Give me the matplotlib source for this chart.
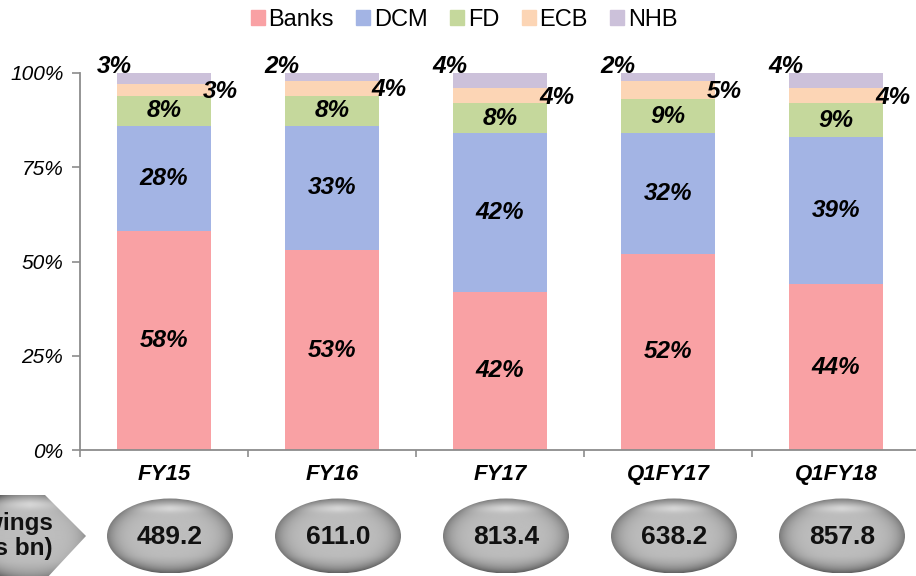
import matplotlib
matplotlib.use('Agg')
import matplotlib.pyplot as plt
import numpy as np
from matplotlib.patches import Ellipse, Polygon, Patch

plt.rcParams['font.family'] = ['Liberation Sans', 'DejaVu Sans']

# Data
periods = ["FY15", "FY16", "FY17", "Q1FY17", "Q1FY18"]
sources = ["Banks", "DCM", "FD", "ECB", "NHB"]
banks = [58, 53, 42, 52, 44]
dcm = [28, 33, 42, 32, 39]
fd = [8, 8, 8, 9, 9]
ecb = [3, 4, 4, 5, 4]
nhb = [3, 2, 4, 2, 4]
borrowings = [489.2, 611.0, 813.4, 638.2, 857.8]
colors = ["#F9A1A4", "#A3B4E4", "#C5D89C", "#FCD5B5", "#CCC1DA"]

W, H = 916, 576
fig = plt.figure(figsize=(W / 100, H / 100), dpi=100)
ax = fig.add_axes([80 / W, 126 / H, 840 / W, 377 / H])

x = np.arange(len(periods))
bw = 0.555
series = [banks, dcm, fd, ecb, nhb]
bottom = np.zeros(len(periods))
for vals, col, name in zip(series, colors, sources):
    ax.bar(x, vals, bw, bottom=bottom, color=col, label=name, linewidth=0)
    bottom += np.array(vals)

lab = dict(fontsize=17.5, fontweight='bold', fontstyle='italic', color='black')
for i in x:
    b, d, f, e, n = banks[i], dcm[i], fd[i], ecb[i], nhb[i]
    ax.text(i, b / 2, f"{b}%", ha='center', va='center', **lab)
    ax.text(i, b + d / 2, f"{d}%", ha='center', va='center', **lab)
    ax.text(i, b + d + f / 2, f"{f}%", ha='center', va='center', **lab)
    ax.text(i + bw / 2 + 0.06, b + d + f + e / 2 - 0.5, f"{e}%", ha='center',
            va='center', clip_on=False, **lab)
    ax.text(i - bw / 2 - 0.02, 101.8, f"{n}%", ha='center', va='center',
            clip_on=False, **lab)

ax.set_xlim(-0.5, 4.5)
ax.set_ylim(0, 100)
ax.set_yticks([0, 25, 50, 75, 100])
ax.set_yticklabels(["0%", "25%", "50%", "75%", "100%"],
                   fontsize=15, fontstyle='italic')
ax.set_xticks(x)
ax.set_xticklabels(periods, fontsize=16, fontweight='bold', fontstyle='italic')
ax.set_xticks(np.arange(-0.5, 5, 1), minor=True)
ax.tick_params(axis='x', which='major', length=0, pad=10)
ax.tick_params(axis='x', which='minor', length=5, width=1.2, color='#8C8C8C')
ax.tick_params(axis='y', length=6, width=1.2, color='#8C8C8C', pad=6)
for s in ['top', 'right']:
    ax.spines[s].set_visible(False)
for s in ['left', 'bottom']:
    ax.spines[s].set_color('#8C8C8C')
    ax.spines[s].set_linewidth(1.3)

handles = [Patch(color=c, label=s) for c, s in zip(colors, sources)]
fig.legend(handles=handles, loc='center', bbox_to_anchor=(464 / W, 1 - 20 / H),
           ncol=5, frameon=False, fontsize=17, handlelength=0.6,
           handleheight=0.6, handletextpad=0.15, columnspacing=0.95)

# overlay in pixel coordinates for the oval badges
ov = fig.add_axes([0, 0, 1, 1], zorder=5)
ov.set_xlim(0, W)
ov.set_ylim(0, H)
ov.axis('off')
ov.patch.set_alpha(0)


def shaded(cx, cy, w, h, clip):
    nx, ny = 240, 140
    u = np.linspace(-1, 1, nx)
    v = np.linspace(1, -1, ny)
    U, V = np.meshgrid(u, v)
    r = np.sqrt(U ** 2 + V ** 2)
    g = 0.74 - 0.26 * np.clip(r, 0, 1.2) ** 6
    g += 0.14 * np.exp(-((V - 0.74) / 0.12) ** 2) * np.clip(1 - np.abs(U) * 1.15, 0, 1)
    g -= 0.10 * np.clip((-V - 0.55) * 2, 0, 1)
    g = np.clip(g, 0, 1)
    im = ov.imshow(g, cmap='gray', vmin=0, vmax=1,
                   extent=(cx - w / 2, cx + w / 2, cy - h / 2, cy + h / 2),
                   aspect='auto', interpolation='bilinear')
    ov.add_patch(clip)
    im.set_clip_path(clip)


ov_y = H - 536
for i, val in enumerate(borrowings):
    px = ax.transData.transform((i, 0))[0] + 6
    el = Ellipse((px, ov_y), 126, 75, facecolor='none', edgecolor='none')
    shaded(px, ov_y, 126, 75, el)
    ov.text(px, ov_y - 1, f"{val:.1f}", ha='center', va='center', fontsize=19,
            fontweight='bold', color='#111111')

# arrow-shaped label on the left
pent = Polygon([(-20, H - 495), (45, H - 495), (86, H - 536), (45, H - 580),
                (-20, H - 580)], closed=True, facecolor='none', edgecolor='none')
shaded(30, H - 537, 120, 90, pent)
ov.text(53, H - 536, "Borrowings\n(Rs bn)", ha='right', va='center',
        fontsize=17.5, fontweight='bold', color='#111111', linespacing=1.1,
        multialignment='right')
ov.set_xlim(0, W)
ov.set_ylim(0, H)

fig.savefig('out.png', dpi=100, facecolor='white')
